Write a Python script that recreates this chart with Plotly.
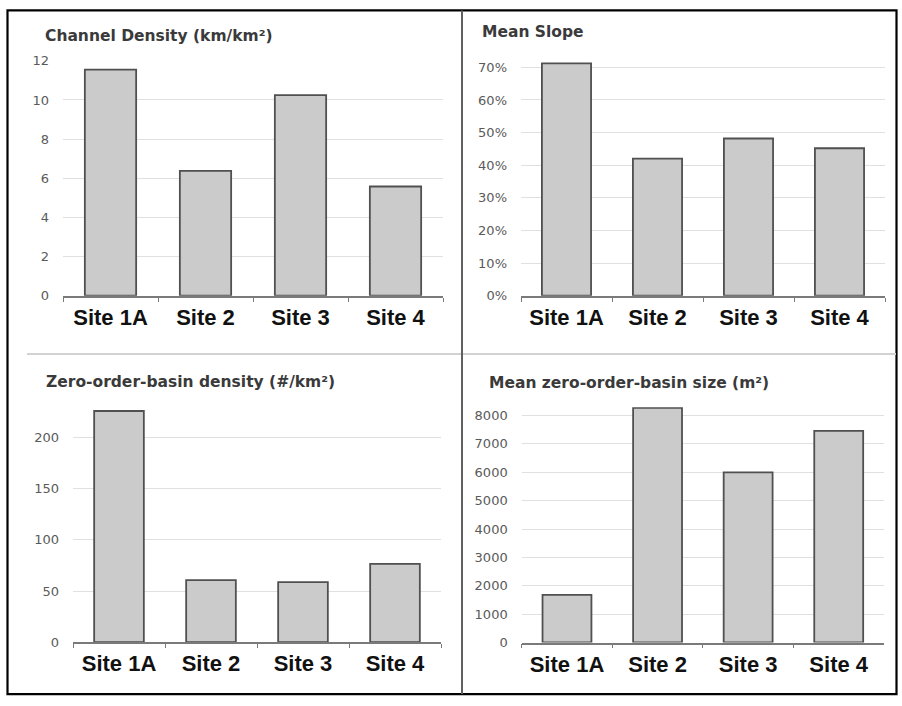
import plotly.graph_objects as go

W, H = 902, 706

sites = ["Site 1A", "Site 2", "Site 3", "Site 4"]
channel_density = [11.55, 6.38, 10.25, 5.58]
mean_slope = [0.712, 0.42, 0.482, 0.452]
zob_density = [226, 60.6, 58.7, 76.6]
zob_size = [1680, 8270, 6000, 7460]

titles = ["Channel Density (km/km²)", "Mean Slope",
          "Zero-order-basin density (#/km²)", "Mean zero-order-basin size (m²)"]


def px(x):
    return x / W


def py(y):
    return 1 - y / H


# panel geometry (pixels): x0, x1, y_bottom(zero), y_top
panels = [
    dict(x0=63, x1=443, yb=295, yt=55, rng=[0, 12], dtick=2, fmt="", title_xy=(43, 30)),
    dict(x0=521, x1=885, yb=295, yt=55, rng=[0, 0.72], dtick=0.1, fmt=".0%", title_xy=(480, 26)),
    dict(x0=73, x1=441, yb=649, yt=408.6, rng=[0, 230], dtick=50, fmt="", title_xy=(44, 383)),
    dict(x0=521.7, x1=884, yb=649.3, yt=409, rng=[0, 8290], dtick=1000, fmt="", title_xy=(487, 384)),
]
values = [channel_density, mean_slope, zob_density, zob_size]

fig = go.Figure()
layout = dict(
    width=W, height=H, margin=dict(l=0, r=0, t=0, b=0),
    paper_bgcolor="white", plot_bgcolor="white", showlegend=False,
    bargap=0.46,
)
annotations = []
for i, (p, vals) in enumerate(zip(panels, values)):
    n = "" if i == 0 else str(i + 1)
    fig.add_trace(go.Bar(
        x=sites, y=vals, xaxis="x" + n, yaxis="y" + n,
        marker=dict(color="#cbcbcb", line=dict(color="#505050", width=1.8)),
        hoverinfo="skip",
    ))
    layout["xaxis" + n] = dict(
        domain=[px(p["x0"]), px(p["x1"])], anchor="y" + n,
        showgrid=False, showline=True, linecolor="#7a7a7a", linewidth=1.6,
        ticks="outside", tickson="boundaries", ticklen=4, tickcolor="#7a7a7a", tickwidth=1.3,
        tickfont=dict(family="Liberation Sans", size=22, color="#111111", weight="bold"),
        ticklabelstandoff=1, fixedrange=True,
    )
    layout["yaxis" + n] = dict(
        domain=[py(p["yb"]), py(p["yt"])], anchor="x" + n,
        range=p["rng"], dtick=p["dtick"], tick0=0, tickformat=p["fmt"],
        showgrid=True, gridcolor="#e0e0e0", gridwidth=1,
        zeroline=False, showline=False, ticks="",
        tickfont=dict(family="DejaVu Sans", size=13, color="#5a5a5a"),
        ticklabelstandoff=13, fixedrange=True,
    )
    tx, ty = p["title_xy"]
    annotations.append(dict(
        text="<b>" + titles[i] + "</b>", x=px(tx), y=py(ty), xref="paper", yref="paper",
        xanchor="left", yanchor="middle", showarrow=False,
        font=dict(family="DejaVu Sans", size=15.5, color="#3a3a3a"),
    ))

shapes = [
    dict(type="rect", xref="paper", yref="paper", x0=px(7.5), x1=px(896.5), y0=py(702), y1=py(3.5),
         line=dict(color="black", width=2.2), fillcolor="rgba(0,0,0,0)"),
    dict(type="line", xref="paper", yref="paper", x0=px(27), x1=px(896), y0=py(354.5), y1=py(354.5),
         line=dict(color="#d2d2d2", width=2)),
    dict(type="line", xref="paper", yref="paper", x0=px(462), x1=px(462), y0=py(3.5), y1=py(702),
         line=dict(color="#606060", width=2)),
]
layout["annotations"] = annotations
layout["shapes"] = shapes
fig.update_layout(**layout)
fig.write_html("out.html", config={"displayModeBar": False},
               post_script="document.body.style.margin='0px';")
